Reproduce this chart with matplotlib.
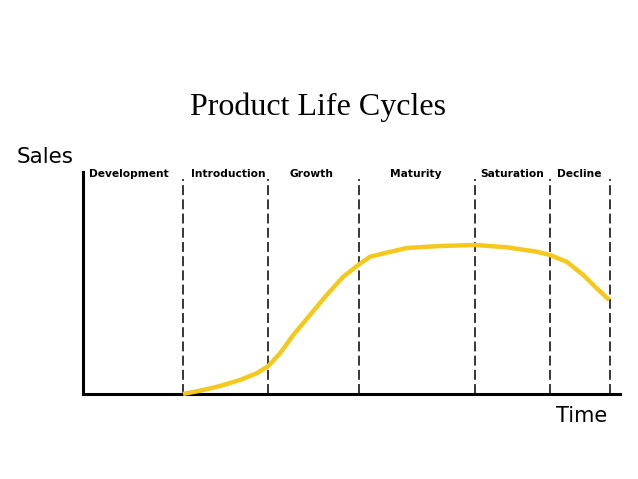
import matplotlib
matplotlib.use("Agg")
import matplotlib.pyplot as plt

# Stage names and boundaries (time units)
stages = ["Development", "Introduction", "Growth", "Maturity", "Saturation", "Decline"]
stage_label_x = [46, 145, 229, 333, 429, 496]
boundaries = [100, 185, 276, 392, 467, 527]

# Sales curve
time = [100, 117, 137, 157, 173.7, 185.3, 197, 210.3, 227, 243.7, 260.3, 275.3,
        287, 303.7, 323.7, 357, 392, 423.7, 453.7, 467, 483.7, 500.3, 513.7, 526.3]
sales = [0, 3.3, 8, 14, 20.7, 28, 40.7, 59, 79, 99, 117.3, 129,
         137.3, 141.3, 146, 148, 149, 146.7, 142.3, 139, 132.3, 119, 105.7, 94]

W, H = 638, 479
fig = plt.figure(figsize=(W / 100, H / 100), dpi=100)
ax = fig.add_axes([83 / W, (H - 394) / H, (620 - 83) / W, (394 - 172) / H])
ax.set_xlim(0, 537)
ax.set_ylim(0, 222)
for s in ["top", "right"]:
    ax.spines[s].set_visible(False)
for s in ["left", "bottom"]:
    ax.spines[s].set_linewidth(2.2)
    ax.spines[s].set_color("black")
ax.set_xticks([])
ax.set_yticks([])

for b in boundaries:
    ax.plot([b, b], [0, 215], color="black", lw=1.1, linestyle=(0, (6.5, 2.8)),
            clip_on=False, zorder=2)

ax.plot(time, sales, color="#F4C81C", lw=3.2, solid_joinstyle="round",
        solid_capstyle="butt", clip_on=False, zorder=3)

for name, x in zip(stages, stage_label_x):
    ax.text(x, 220, name, ha="center", va="center", fontsize=7.7,
            fontweight="bold", family="DejaVu Sans")

fig.text(318 / W, 1 - 107 / H, "Product Life Cycles", ha="center", va="center",
         fontsize=23, family="Liberation Serif")
fig.text(17 / W, 1 - 157 / H, "Sales", ha="left", va="center", fontsize=15.5,
         family="DejaVu Sans")
fig.text(607 / W, 1 - 416 / H, "Time", ha="right", va="center", fontsize=15,
         family="DejaVu Sans")

fig.savefig("out.png", dpi=100)
